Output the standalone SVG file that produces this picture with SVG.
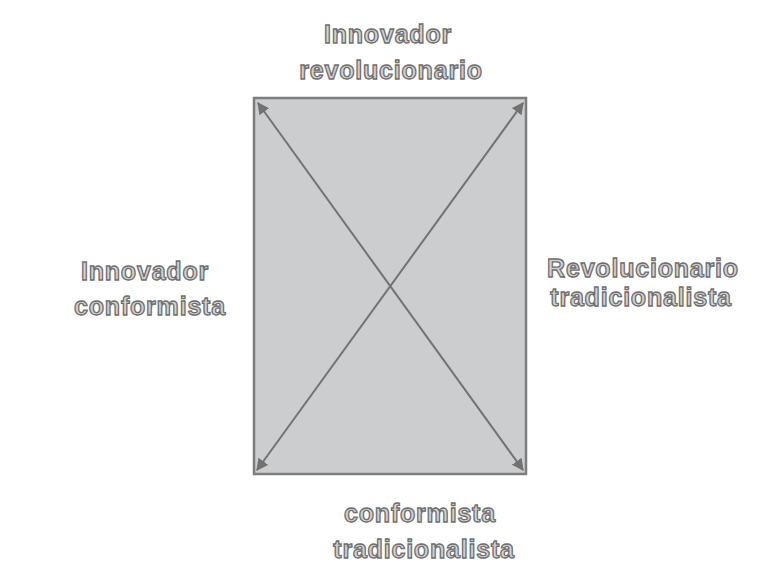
<svg xmlns="http://www.w3.org/2000/svg" width="766" height="571" viewBox="0 0 766 571">
<style>
.lbl{font-family:"Liberation Sans",Arial,sans-serif;font-weight:bold;font-size:25px;letter-spacing:0.8px;fill:#d2d2d2;stroke:#6e6e6e;stroke-width:1.3px;text-anchor:middle}
.ln{stroke:#727272;stroke-width:2;fill:none;marker-start:url(#ah);marker-end:url(#ah)}
</style>
<defs>
<marker id="ah" viewBox="0 0 10 10" refX="9" refY="5" markerWidth="6" markerHeight="6" orient="auto-start-reverse" markerUnits="strokeWidth">
<path d="M0,0 L10,5 L0,10 z" fill="#727272"/>
</marker>
</defs>
<rect width="766" height="571" fill="#ffffff"/>
<g id="box">
<rect x="254" y="98" width="272" height="376" fill="#cbcdcf" stroke="#7d7d7d" stroke-width="2.5"/>
</g>
<g id="connectors">
<line class="ln" x1="258" y1="103" x2="523" y2="470"/>
<line class="ln" x1="523" y1="103" x2="257" y2="470"/>
</g>
<g id="top">
<text class="lbl" x="388" y="43">Innovador</text>
<text class="lbl" x="391" y="79">revolucionario</text>
</g>
<g id="left">
<text class="lbl" x="145" y="280">Innovador</text>
<text class="lbl" x="150" y="315">conformista</text>
</g>
<g id="right">
<text class="lbl" x="643" y="277">Revolucionario</text>
<text class="lbl" x="641" y="306">tradicionalista</text>
</g>
<g id="bottom">
<text class="lbl" x="420" y="522">conformista</text>
<text class="lbl" x="424" y="558">tradicionalista</text>
</g>
</svg>
